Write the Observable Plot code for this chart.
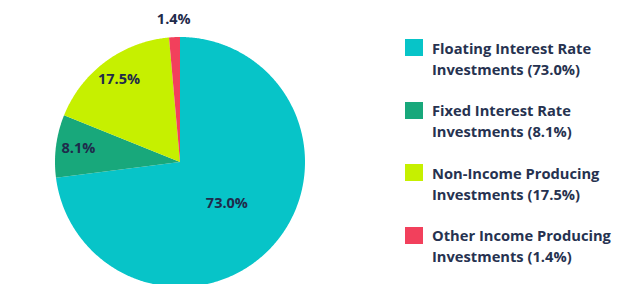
<!DOCTYPE html>
<html>
<head>
<meta charset="utf-8">
<script src="https://cdn.jsdelivr.net/npm/d3@7"></script>
<script src="https://cdn.jsdelivr.net/npm/@observablehq/plot@0.6"></script>
<style>
  html, body { margin: 0; padding: 0; background: #ffffff; }
  #wrap { position: relative; width: 617px; height: 284px; overflow: hidden; background: #fff; font-family: "Open Sans", sans-serif; }
  #legend { position: absolute; left: 0; top: 0; }
  .row { position: absolute; left: 405px; }
  .sw { position: absolute; left: 0; width: 18px; height: 17px; }
  .txt { position: absolute; left: 27px; white-space: nowrap; font-weight: 700; font-size: 14.7px; line-height: 21px; color: #263250; }
</style>
</head>
<body>
<div id="wrap"><div id="chart"></div><div id="legend"></div></div>
<script>
const categories = [
  "Floating Interest Rate Investments",
  "Fixed Interest Rate Investments",
  "Non-Income Producing Investments",
  "Other Income Producing Investments"
];
const legendFirstLine = ["Floating Interest Rate", "Fixed Interest Rate", "Non-Income Producing", "Other Income Producing"];
const legendSecondLine = ["Investments", "Investments", "Investments", "Investments"];
const shares = [73.0, 8.1, 17.5, 1.4];
const colors = ["#07c4c8", "#18a87b", "#c6f000", "#f2405c"];

const fmt = v => v.toFixed(1) + "%";

// pie angles via d3.pie (clockwise from 12 o'clock)
const arcs = d3.pie().sort(null).value(d => d.value)(categories.map((c, i) => ({category: c, value: shares[i]})));

function pt(a, r) { return [r * Math.sin(a), -r * Math.cos(a)]; }

const features = arcs.map(a => {
  const ring = [[0, 0]];
  const n = Math.max(2, Math.ceil((a.endAngle - a.startAngle) / (Math.PI / 360)));
  for (let k = 0; k <= n; ++k) ring.push(pt(a.startAngle + (a.endAngle - a.startAngle) * k / n, 1));
  ring.push([0, 0]);
  return {type: "Feature", properties: {category: a.data.category}, geometry: {type: "Polygon", coordinates: [ring]}};
});

const labels = arcs.map(a => {
  const mid = (a.startAngle + a.endAngle) / 2;
  const v = a.data.value;
  const r = v > 50 ? 0.5 : v < 5 ? 1.14 : 0.82;
  const [x, y] = pt(mid, r);
  return {x, y, label: fmt(v)};
});

const plot = Plot.plot({
  width: 617,
  height: 284,
  margin: 0,
  projection: d3.geoIdentity().scale(125).translate([179.5, 161.5]),
  color: {domain: categories, range: colors},
  marks: [
    Plot.geo(features, {fill: d => d.properties.category, stroke: "none"}),
    Plot.text(labels, {x: "x", y: "y", text: "label", fill: "#1f2b4b", fontSize: 14.5, fontWeight: 700, fontFamily: "Open Sans"})
  ]
});
plot.style.background = "transparent";
document.getElementById("chart").appendChild(plot);

const legend = document.getElementById("legend");
categories.forEach((c, i) => {
  const row = document.createElement("div");
  row.className = "row";
  row.style.top = (37.5 + i * 62.5) + "px";
  const sw = document.createElement("div");
  sw.className = "sw";
  sw.style.top = "1.8px";
  sw.style.background = colors[i];
  const t = document.createElement("div");
  t.className = "txt";
  t.style.top = "0px";
  t.innerHTML = legendFirstLine[i] + "<br>" + legendSecondLine[i] + " (" + fmt(shares[i]) + ")";
  row.appendChild(sw);
  row.appendChild(t);
  legend.appendChild(row);
});
</script>
</body>
</html>
